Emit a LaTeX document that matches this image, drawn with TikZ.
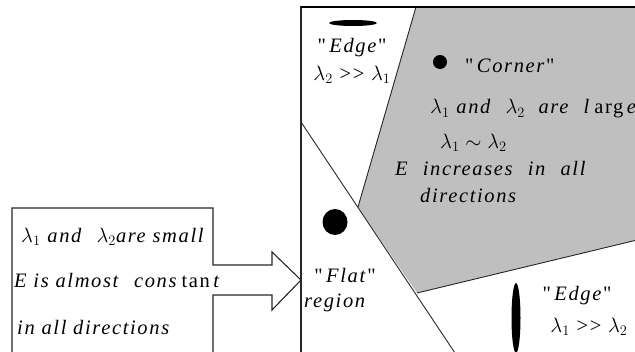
\documentclass[tikz,border=0pt]{standalone}
\usepackage{fontspec}
\setmainfont{Liberation Serif}[Ligatures=TeXOff]
\newfontfamily\eqfont{Liberation Serif}[Ligatures=TeXOff, LetterSpace=8]
\usetikzlibrary{positioning, shapes.geometric}
\tikzset{
  frame/.style={draw=black!85, line width=1.1pt},
  thinline/.style={draw=black!85, line width=0.9pt},
  txt/.style={font=\eqfont\fontsize{20.5}{22}\selectfont, inner sep=0pt},
  lft/.style={txt, anchor=west},
  blob/.style={fill=black, draw=none, inner sep=0pt},
}
\colorlet{cornergray}{black!25}

\begin{document}
\begin{tikzpicture}[x=1pt, y=-1pt, node distance=6pt]
  \useasboundingbox (0,0) rectangle (635,351);
  % corner region (grey)
  \fill[cornergray] (416,7) -- (637,7) -- (637,240) -- (417,293) -- (358,207) -- cycle;
  \draw[thinline] (416,7) -- (358,207);
  \draw[thinline] (417,293) -- (637,240);
  \draw[thinline] (301,122) -- (455,353);
  % outer frame
  \draw[frame] (301,353) -- (301,7) -- (637,7);
  \draw[line width=2pt] (301,7) -- (637,7);
  % left box with its arrow
  \draw[frame] (12,353) -- (12,208) -- (213,208) -- (213,265) -- (272,265) -- (272,252)
    -- (301,280) -- (272,310) -- (272,295) -- (213,295) -- (213,353);

  % blobs
  \node[blob, ellipse, minimum width=48pt, minimum height=6pt] (edgeH) at (353,23) {};
  \node[blob, circle, minimum size=14pt] (cornerdot) at (440,62) {};
  \node[blob, ellipse, minimum width=25pt, minimum height=26pt] (flatdot) at (335,222) {};
  \node[blob, ellipse, minimum width=9pt, minimum height=70pt] (edgeV) at (516,318) {};

  % top edge region
  \node[txt] (edgeA) at (352,48) {"\,\textit{Edge}"};
  \node[txt, below=8pt of edgeA] (edgeArel) {$\lambda_2$ >> $\lambda_1$};
  % corner region
  \node[lft] (corner) at (465,66) {"\,\textit{Corner}"};
  \node[lft] (corner1) at (430,109) {$\lambda_1$ \textit{and}\ \ $\lambda_2$\ \ \textit{are}\ \ \textit{l}\,arg\,\textit{e}};
  \node[lft] (corner2) at (440,143) {$\lambda_1 \sim \lambda_2$};
  \node[lft] (corner3) at (395,168) {\textit{E}\ \ \textit{increases}\ \ \textit{in}\ \ \textit{all}};
  \node[lft] (corner4) at (420,195) {\textit{directions}};
  % flat region
  \node[txt] (flat) at (345,275) {"\,\textit{Flat}"};
  \node[lft] (flat2) at (304,303) {\textit{region}};
  % bottom edge region
  \node[txt] (edgeB) at (577,296) {"\,\textit{Edge}"};
  \node[txt] (edgeBrel) at (589,327) {$\lambda_1$ >> $\lambda_2$};
  % left box
  \node[lft] (small) at (21,237) {$\lambda_1$ \textit{and}\ \ $\lambda_2$\textit{are small}};
  \node[lft] (const) at (14,280) {\textit{E is almost}\ \ \textit{cons}\,tan\,\textit{t}};
  \node[lft] (dirs) at (17,327) {\textit{in all directions}};
\end{tikzpicture}
\end{document}
